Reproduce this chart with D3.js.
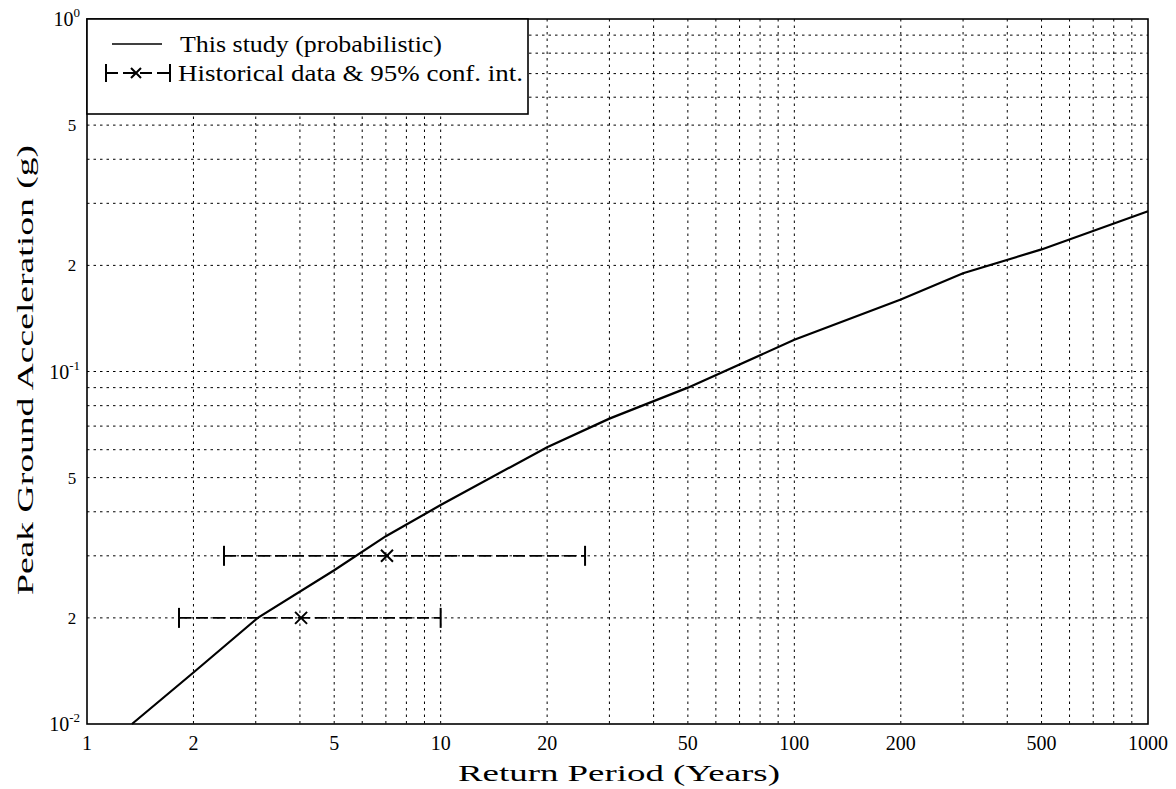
<!DOCTYPE html>
<html><head><meta charset="utf-8">
<script src="https://cdn.jsdelivr.net/npm/d3@7"></script>
<style>body{margin:0;background:#fff}svg{display:block}text{font-family:"Liberation Serif","Times New Roman",serif;fill:#000}</style>
</head><body>
<svg id="c" width="1176" height="789"></svg>
<script>
// ---- data ----
const returnPeriods = [1.34, 2, 3.04, 5, 7, 10, 20, 30, 50, 100, 200, 300, 500, 1000];
const pgaStudy      = [0.01, 0.014, 0.02, 0.0273, 0.0341, 0.0418, 0.061, 0.0735, 0.09, 0.123, 0.16, 0.19, 0.222, 0.285];
const histPGA  = [0.03, 0.02];
const histBest = [7.05, 4.03];
const histLow  = [2.44, 1.82];
const histHigh = [25.6, 10];
const xTicks = [1, 2, 5, 10, 20, 50, 100, 200, 500, 1000];
const xGrid = [2,3,4,5,6,7,8,9,10,20,30,40,50,60,70,80,90,100,200,300,400,500,600,700,800,900];
const yGrid = [0.02,0.03,0.04,0.05,0.06,0.07,0.08,0.09,0.1,0.2,0.3,0.4,0.5,0.6,0.7,0.8,0.9];
const yMinorLabels = [[0.5,"5"],[0.2,"2"],[0.05,"5"],[0.02,"2"]];
const yMajorLabels = [[1,"0"],[0.1,"-1"],[0.01,"-2"]];

const L = 87, R = 1148, T = 19, B = 724;
const svg = d3.select("#c");
const x = d3.scaleLog().domain([1,1000]).range([L,R]);
const y = d3.scaleLog().domain([0.01,1]).range([B,T]);

// grid
const g = svg.append("g").attr("stroke","#000").attr("stroke-width",1).attr("stroke-dasharray","2.5,4");
g.selectAll("line.v").data(xGrid).join("line").attr("x1",d=>x(d)).attr("x2",d=>x(d)).attr("y1",T).attr("y2",B);
g.selectAll("line.h").data(yGrid).join("line").attr("x1",L).attr("x2",R).attr("y1",d=>y(d)).attr("y2",d=>y(d));

// study curve
const line = d3.line().x(d=>x(d[0])).y(d=>y(d[1]));
svg.append("path").datum(returnPeriods.map((r,i)=>[r,pgaStudy[i]]))
  .attr("d",line).attr("fill","none").attr("stroke","#000").attr("stroke-width",2.2);

// historical error bars
function errBar(sel, xl, xh, xb, yy, cap, mk){
  sel.append("line").attr("x1",xl).attr("x2",xh).attr("y1",yy).attr("y2",yy)
    .attr("stroke","#000").attr("stroke-width",1.8).attr("stroke-dasharray","12,5");
  [xl,xh].forEach(xx=>sel.append("line").attr("x1",xx).attr("x2",xx).attr("y1",yy-cap).attr("y2",yy+cap)
    .attr("stroke","#000").attr("stroke-width",2));
  sel.append("path").attr("d",`M${xb-mk},${yy-mk}L${xb+mk},${yy+mk}M${xb-mk},${yy+mk}L${xb+mk},${yy-mk}`)
    .attr("stroke","#000").attr("stroke-width",2);
}
const hb = svg.append("g");
histPGA.forEach((p,i)=>errBar(hb, x(histLow[i]), x(histHigh[i]), x(histBest[i]), y(p), 10, 6));

// frame
svg.append("rect").attr("x",L).attr("y",T).attr("width",R-L).attr("height",B-T)
  .attr("fill","none").attr("stroke","#000").attr("stroke-width",1.6);

// legend
const lg = svg.append("g");
lg.append("rect").attr("x",L).attr("y",T).attr("width",441).attr("height",95)
  .attr("fill","#fff").attr("stroke","#000").attr("stroke-width",1.6);
lg.append("line").attr("x1",112).attr("x2",162).attr("y1",44).attr("y2",44).attr("stroke","#000").attr("stroke-width",1.4);
lg.append("text").attr("x",180).attr("y",52).attr("font-size",24).attr("textLength",262).attr("lengthAdjust","spacingAndGlyphs").text("This study (probabilistic)");
errBar(lg, 106, 170, 136, 73, 9, 5);
lg.append("text").attr("x",178).attr("y",81).attr("font-size",24).attr("textLength",345).attr("lengthAdjust","spacingAndGlyphs").text("Historical data & 95% conf. int.");

// x tick labels
svg.append("g").selectAll("text").data(xTicks).join("text")
  .attr("x",d=>x(d)).attr("y",750).attr("text-anchor","middle").attr("font-size",20).text(d=>d);
// y tick labels
svg.append("g").selectAll("text").data(yMinorLabels).join("text")
  .attr("x",72).attr("y",d=>y(d[0])+6).attr("text-anchor","middle").attr("font-size",17).text(d=>d[1]);
const ym = svg.append("g").selectAll("text").data(yMajorLabels).join("text")
  .attr("x",80).attr("y",d=>y(d[0])+7).attr("text-anchor","end").attr("font-size",20);
ym.append("tspan").text("10");
ym.append("tspan").attr("dy",-9).attr("font-size",13).text(d=>d[1]);

// axis titles
svg.append("text").attr("x",619).attr("y",781).attr("text-anchor","middle").attr("font-size",24)
  .attr("textLength",322).attr("lengthAdjust","spacingAndGlyphs").text("Return Period (Years)");
svg.append("text").attr("transform","translate(33,370) rotate(-90)").attr("text-anchor","middle").attr("font-size",24)
  .attr("textLength",450).attr("lengthAdjust","spacingAndGlyphs").text("Peak Ground Acceleration (g)");
</script>
</body></html>
